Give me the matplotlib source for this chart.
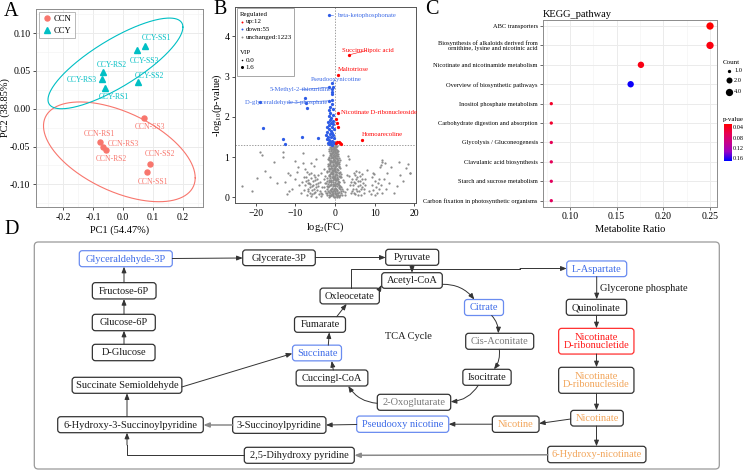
import numpy as np
import matplotlib.pyplot as plt
from matplotlib.patches import FancyBboxPatch, Rectangle
from matplotlib.colors import LinearSegmentedColormap, Normalize
from matplotlib.cm import ScalarMappable

plt.rcParams['font.family'] = ['Liberation Serif', 'DejaVu Serif']
plt.rcParams['mathtext.fontset'] = 'custom'
plt.rcParams['mathtext.rm'] = 'Liberation Serif'
plt.rcParams['mathtext.it'] = 'Liberation Serif:italic'

# ---------------- data ----------------
# A: PCA scores
ccn_names = ['CCN-SS1', 'CCN-SS2', 'CCN-SS3', 'CCN-RS1', 'CCN-RS2', 'CCN-RS3']
ccn_pc1 = [0.080, 0.091, 0.070, -0.077, -0.057, -0.066]
ccn_pc2 = [-0.084, -0.0735, -0.0126, -0.044, -0.054, -0.051]
ccy_names = ['CCY-SS1', 'CCY-SS2', 'CCY-SS3', 'CCY-RS1', 'CCY-RS2', 'CCY-RS3']
ccy_pc1 = [0.073, 0.049, 0.048, -0.059, -0.066, -0.069]
ccy_pc2 = [0.083, 0.035, 0.078, 0.027, 0.049, 0.039]
# label spots (repelled)
ccn_lab_x = [0.101, 0.123, 0.090, -0.077, -0.038, 0.001]
ccn_lab_y = [-0.0966, -0.060, -0.0245, -0.0334, -0.067, -0.047]
ccy_lab_x = [0.112, 0.090, 0.071, -0.032, -0.038, -0.138]
ccy_lab_y = [0.094, 0.043, 0.063, 0.015, 0.058, 0.038]
# confidence ellipses: centre, sd, correlation
ccn_ell = [-0.012, -0.057, 0.253, 0.066, -0.52]
ccy_ell = [-0.025, 0.060, 0.225, 0.060, 0.80]

# B: volcano
up_fc = [3.53, 0.84, 0.67, 6.8, 0.25, 0.58, 0.84, 0.2, 0.5, 0.9, 1.2, 1.5]
up_p = [3.54, 3.04, 2.09, 1.43, 1.95, 1.84, 1.76, 1.35, 1.38, 1.37, 1.34, 1.32]
down_fc = [-1.43, -0.68, -0.58, -1.44, -0.68, -0.76, -7.56, -7.3, -7.13, -1.44,
           -0.68, -0.68, -1.44, -1.26, -18.9, -18.1, -13.0, -12.6, -8.4, -4.2,
           -1.5, -0.9, -1.2, -0.6, -1.8, -1.0, -0.4, -1.4, -2.1, -0.8,
           -1.6, -0.3, -1.1, -1.9, -0.7, -1.3, -2.3, -0.5, -1.7, -1.0,
           -0.3, -2.0, -1.4, -0.8, -1.2, -0.5, -1.8, -0.2, -1.0, -1.5,
           -0.7, -0.4, -1.2, -0.6, -0.7]
down_p = [4.52, 2.85, 2.73, 2.74, 2.63, 2.56, 2.46, 2.34, 2.21, 2.40,
          2.42, 2.31, 2.17, 2.09, 2.38, 1.72, 1.44, 1.32, 1.51, 1.47,
          2.02, 1.98, 1.93, 1.90, 1.88, 1.85, 1.83, 1.80, 1.76, 1.74,
          1.71, 1.69, 1.66, 1.63, 1.61, 1.58, 1.55, 1.54, 1.51, 1.49,
          1.47, 1.45, 1.43, 1.41, 1.38, 1.37, 1.35, 1.34, 1.33, 1.32,
          1.31, 2.05, 2.25, 2.20, 2.70]
# unchanged metabolites: central column
nc_fc = [-0.2, 0.3, -0.8, 0.9, -1.5, 1.4, -2.3, 0.1, -0.5, 0.6, -1.1, 1.8, -2.8, 0.0, -0.3,
         1.1, -1.7, 0.4, -0.9, 2.2, -2.1, 0.2, -0.6, 0.8, -1.3, 1.5, -0.1, -2.5, 0.5, -0.4,
         -1.0, 1.0, -1.9, 0.1, -0.7, 0.7, -1.4, 1.3, -0.2, 0.3, -1.1, -0.5, 0.9, -1.7, 0.0,
         -0.8, 0.5, -1.2, 1.2, -0.3, 0.2, -0.9, -1.5, 0.6, -0.1, -0.6, 0.8, -1.3, 0.1, -0.4,
         -1.0, 0.4, -0.7, -0.2, 0.3, -1.2, -0.5, 0.0,
         0.4, -1.2, 1.2, -0.4, -1.9, 0.7, -0.1, -1.0, 2.0, 0.2, -0.7, 1.4, -1.4, 0.5, -0.2,
         -2.4, 0.9, -1.1, 0.0, -0.5, 1.2, -1.6, 0.3, -0.8, 0.6, -0.3, -1.3, 0.1, 0.9, -0.6,
         -1.5, 0.4, -0.1, -1.0, 0.7, -0.4, 0.1, -1.1, 0.4, -0.8, 0.6, -0.3, -1.4, 0.1, -0.9,
         -0.1, 0.5, -0.7,
         -0.6, 0.8, -1.3, -3.2, 2.6, 0.0, -0.3, 1.0, -1.9, 0.3, -0.9, 0.7, -1.5, -0.1, 0.4,
         -0.6, 1.6, -1.2, 0.0, -0.4, 0.5, -1.0, -0.2, 0.7, -1.3, 0.2, -0.6, -1.7, 0.9, -0.2,
         -0.9, 0.3, -0.5, -1.1, 0.2,
         -1.6, 0.6, -0.9, 1.7, -2.0, 0.2, -0.5, 1.0, -1.4, -2.6, 0.5, -0.2, -1.2, 1.3, -0.8,
         0.9, -1.8, -0.4, 0.1, -1.0, 0.7, -2.2, -0.6, 1.1, -1.3, 0.3, -0.3, -1.9, 0.6, -0.8,
         1.3, -1.5, 0.0, -0.7, 0.9, -1.1, 0.3, -2.0, -0.4, 0.6, -1.6, -0.1, -0.9, 0.5, -1.3,
         0.2, -0.6, 1.0, -1.0, 0.0, -1.6, 0.4, -0.7, 0.7, -1.3, -0.2, -0.8, 0.5, -1.5, -0.1,
         -0.6, 0.3, -1.0, -0.3, 0.0,
         0.0, -0.4, 1.1, -1.1, 2.4, -3.5, 0.6, -0.7, 1.6, -1.7, 0.3, -0.1, -2.1, 1.2, -1.2,
         0.8, -0.5, -1.6, 0.1, 1.9, -0.9, 0.5, -2.7, -0.2, -1.2, 0.9, -0.5, 1.3, -1.4, 0.1,
         -0.8, -0.3, 0.9, -1.8, 0.3, -0.5, -1.2, 0.6, -0.2, -1.4, 0.4, -0.5, -1.1, 0.2, -0.4,
         0.7, -0.9, -0.2, -0.6, 0.1]
nc_p = [0.02, 0.05, 0.08, 0.03, 0.06, 0.10, 0.12, 0.14, 0.17, 0.19, 0.21, 0.22, 0.25, 0.27, 0.30,
        0.31, 0.33, 0.35, 0.38, 0.37, 0.40, 0.42, 0.44, 0.46, 0.48, 0.50, 0.52, 0.53, 0.55, 0.57,
        0.60, 0.61, 0.63, 0.65, 0.67, 0.69, 0.71, 0.72, 0.74, 0.77, 0.79, 0.81, 0.82, 0.84, 0.86,
        0.88, 0.90, 0.92, 0.93, 0.95, 0.97, 0.99, 1.01, 1.02, 1.04, 1.06, 1.08, 1.10, 1.12, 1.14,
        1.16, 1.18, 1.20, 1.22, 1.24, 1.26, 1.27, 1.29,
        0.01, 0.03, 0.07, 0.09, 0.10, 0.12, 0.15, 0.16, 0.15, 0.20, 0.23, 0.26, 0.28, 0.29, 0.34,
        0.35, 0.39, 0.41, 0.45, 0.49, 0.51, 0.55, 0.58, 0.62, 0.64, 0.68, 0.70, 0.73, 0.75, 0.78,
        0.80, 0.83, 0.87, 0.90, 0.94, 0.98, 1.00, 1.03, 1.07, 1.11, 1.15, 1.17, 1.19, 1.21, 1.23,
        1.25, 1.28, 1.28,
        0.04, 0.06, 0.11, 0.08, 0.13, 0.10, 0.20, 0.24, 0.27, 0.32, 0.31, 0.40, 0.43, 0.47, 0.50,
        0.54, 0.58, 0.59, 0.62, 0.66, 0.70, 0.73, 0.80, 0.85, 0.86, 0.89, 0.93, 0.96, 0.99, 1.02,
        1.06, 1.10, 1.13, 1.20, 1.27,
        0.02, 0.04, 0.05, 0.06, 0.07, 0.09, 0.11, 0.13, 0.14, 0.16, 0.17, 0.18, 0.19, 0.20, 0.22,
        0.25, 0.26, 0.28, 0.30, 0.32, 0.34, 0.36, 0.37, 0.39, 0.41, 0.43, 0.45, 0.47, 0.48, 0.50,
        0.53, 0.54, 0.56, 0.58, 0.60, 0.62, 0.63, 0.66, 0.68, 0.71, 0.73, 0.76, 0.78, 0.80, 0.83,
        0.85, 0.87, 0.89, 0.91, 0.94, 0.97, 0.96, 1.00, 1.03, 1.05, 1.08, 1.10, 1.13, 1.15, 1.17,
        1.19, 1.21, 1.24, 1.26, 1.10,
        0.00, 0.06, 0.02, 0.07, 0.05, 0.04, 0.10, 0.13, 0.16, 0.17, 0.22, 0.24, 0.22, 0.28, 0.30,
        0.33, 0.34, 0.38, 0.38, 0.42, 0.44, 0.46, 0.46, 0.50, 0.52, 0.54, 0.60, 0.64, 0.66, 0.68,
        0.72, 0.71, 0.78, 0.77, 0.81, 0.84, 0.87, 0.88, 0.91, 0.94, 0.99, 1.01, 1.08, 1.05, 1.12,
        1.16, 1.18, 1.20, 1.25, 1.16]
# unchanged metabolites: scattered away from zero
nc_far_fc = [-18.9, -18.5, -17.6, -15.5, -13.2, -13.0, -11.8, -11.3, -12.6, -16.4, -19.7, -23.5,
             -8.0, -8.0, -7.5, -9.5, -10.2, -10.8, -9.0, -11.5, -12.2,
             -7.2, -6.8, -6.5, -6.1, -5.9, -5.5, -5.2, -4.9, -4.6, -4.3, -6.9, -6.3, -5.7, -5.0,
             -4.1, -7.6, -6.6, -5.4, -4.5, -3.8, -3.5, -3.9, -7.9, -8.5, -6.0, -4.7,
             -6.0, -5.3, -4.8, -3.0, -2.7,
             -7.0, -6.7, -6.4, -6.2, -5.8, -5.6, -5.3, -5.1, -4.8, -4.4, -6.8, -7.3, -6.0, -5.0,
             -4.2, -7.0, -7.8, -8.2, -3.3, -3.6,
             3.35, 3.6, 11.8, 11.8, 16.0, 18.0, 18.9, 13.0, 9.8, 18.5, 19.0, 16.4, 11.6, 11.3,
             11.1, 9.5, 8.0, 6.3,
             4.3, 4.6, 4.9, 5.2, 5.5, 5.8, 6.1, 6.4, 6.7, 7.0, 7.3, 5.0, 5.7, 6.6, 4.4, 7.6, 4.7,
             5.4, 6.9, 3.8, 3.5,
             4.5, 4.8, 5.1, 5.3, 5.6, 5.9, 6.2, 6.5, 6.8, 7.2, 7.5, 5.0, 6.0, 4.1, 3.9,
             9.2, 9.6, 10.0, 10.3, 10.6, 10.9, 11.2, 11.5, 11.9, 9.0, 10.1, 12.3, 12.8, 9.4, 8.6,
             13.5, 14.8, 15.6, 2.8, 3.0, 2.9,
             -21.0, -14.5, -10.0, -9.3, 14.0, 17.2, 12.5]
nc_far_p = [1.13, 1.05, 0.65, 0.89, 1.13, 1.01, 0.60, 0.55, 0.39, 0.51, 0.47, 0.27,
            1.10, 0.85, 0.70, 0.62, 0.45, 0.20, 0.30, 0.15, 0.08,
            0.50, 0.42, 0.35, 0.48, 0.28, 0.40, 0.22, 0.33, 0.18, 0.27, 0.20, 0.12, 0.08, 0.13,
            0.09, 0.30, 0.58, 0.55, 0.45, 0.38, 0.60, 0.15, 0.18, 0.10, 0.03, 0.02,
            0.85, 0.78, 0.95, 1.05, 0.70,
            0.05, 0.15, 0.25, 0.33, 0.18, 0.30, 0.10, 0.42, 0.25, 0.35, 0.35, 0.40, 0.60, 0.50,
            0.55, 0.62, 0.50, 0.38, 0.25, 0.10,
            1.03, 0.95, 0.93, 0.88, 0.87, 0.72, 0.60, 0.60, 0.57, 0.83, 0.60, 0.55, 0.80, 0.75,
            0.45, 0.60, 0.68, 0.53,
            0.45, 0.30, 0.38, 0.20, 0.50, 0.28, 0.15, 0.40, 0.25, 0.35, 0.12, 0.08, 0.05, 0.07, 0.15,
            0.45, 0.60, 0.65, 0.58, 0.30, 0.52,
            0.22, 0.12, 0.35, 0.45, 0.15, 0.40, 0.30, 0.20, 0.45, 0.22, 0.30, 0.55, 0.62, 0.38, 0.12,
            0.30, 0.18, 0.40, 0.25, 0.12, 0.35, 0.20, 0.30, 0.10, 0.08, 0.05, 0.45, 0.22, 0.50, 0.15,
            0.35, 0.12, 0.28, 0.80, 0.20, 0.55,
            0.15, 0.35, 0.90, 0.75, 0.75, 0.40, 0.85]
# labelled metabolites: name, point, text position, colour key
vol_labels = ['beta-ketophosphonate', 'Succinyllipoic acid', 'Maltotriose', 'Pseudooxynicotine',
              '5-Methyl-2-thiouridine', 'D-glyceraldehyde 3-phosphate',
              'Nicotinate D-ribonucleoside', 'Homoarecoline']
vol_lab_pt_x = [-1.43, 3.53, 0.84, -0.68, -1.44, -1.44, 0.67, 6.8]
vol_lab_pt_y = [4.52, 3.54, 3.04, 2.85, 2.74, 2.40, 2.09, 1.43]
vol_lab_tx = [8.1, 8.3, 4.6, 0.25, -8.8, -12.3, 11.1, 11.9]
vol_lab_ty = [4.53, 3.66, 3.18, 2.94, 2.67, 2.35, 2.10, 1.57]
vol_lab_up = [False, True, True, False, False, False, True, True]

# C: KEGG enrichment
kegg_terms = ['ABC transporters',
              'Biosynthesis of alkaloids derived from\nornithine, lysine and nicotinic acid',
              'Nicotinate and nicotinamide metabolism',
              'Overview of biosynthetic pathways',
              'Inositol phosphate metabolism',
              'Carbohydrate digestion and absorption',
              'Glycolysis / Gluconeogenesis',
              'Clavulanic acid biosynthesis',
              'Starch and sucrose metabolism',
              'Carbon fixation in photosynthetic organisms']
kegg_ratio = [0.25, 0.25, 0.176, 0.165, 0.08, 0.08, 0.08, 0.08, 0.08, 0.08]
kegg_count = [4, 4, 3, 3, 1, 1, 1, 1, 1, 1]
kegg_pval = [0.028, 0.034, 0.036, 0.166, 0.045, 0.047, 0.066, 0.068, 0.070, 0.070]
count_breaks = [1.0, 2.0, 4.0]
pval_breaks = [0.04, 0.08, 0.12, 0.16]

# D: pathway nodes  name: (cx, cy, w, h, style)
nodes = {
    'Glyceraldehyde-3P': (125.8, 258.7, 93, 16, 'blue'),
    'Glycerate-3P': (279, 257.8, 72.6, 15.7, 'plain'),
    'Pyruvate': (412.2, 257.3, 53, 16, 'plain'),
    'Acetyl-CoA': (412, 280.5, 60.6, 15.6, 'plain'),
    'Oxleocetate': (349.7, 296, 59.3, 15.8, 'plain'),
    'Fumarate': (320, 324.5, 51, 15.6, 'plain'),
    'Succinate': (317, 353, 49, 15.7, 'blue'),
    'Cuccingl-CoA': (332, 378, 71.7, 16, 'plain'),
    'Citrate': (484, 307.5, 39, 16, 'blue'),
    'Cis-Aconitate': (499.7, 341.3, 68, 16, 'gray'),
    'Isocitrate': (487, 377.3, 48.3, 16, 'plain'),
    '2-Oxoglutarate': (414, 402.3, 73.4, 16, 'gray'),
    'L-Aspartate': (596.7, 268.8, 60, 15.7, 'blue'),
    'Quinolinate': (596.5, 307.3, 60.4, 16, 'plain'),
    'Nicotinate\nD-ribonucletide': (596.3, 341.2, 75.3, 25.7, 'red'),
    'Nicotinate\nD-ribonucleside': (596.3, 380.3, 75.3, 26, 'orange'),
    'Nicotinate': (597, 418.2, 52.6, 15.7, 'orange'),
    'Nicotine': (515.7, 424.2, 46.7, 16.3, 'orange'),
    'Pseudooxy nicotine': (402.7, 424.2, 92, 16.3, 'blue'),
    '3-Succinoylpyridine': (279.3, 425, 93.3, 16.7, 'plain'),
    '6-Hydroxy-3-Succinoylpyridine': (130.5, 424.7, 145.6, 16, 'plain'),
    'Succinate Semioldehyde': (127, 385.3, 109.7, 16, 'plain'),
    'D-Glucose': (123.7, 352.5, 62.7, 16.4, 'plain'),
    'Glucose-6P': (123.8, 322.5, 63, 16.4, 'plain'),
    'Fructose-6P': (124.2, 290.8, 63.7, 16.3, 'plain'),
    '2,5-Dihydroxy pyridine': (299.3, 455.3, 110, 16, 'plain'),
    '6-Hydroxy-nicotinate': (596.8, 454.5, 98.3, 16.4, 'orange'),
}

W, H = 745, 470
fig = plt.figure(figsize=(W / 100, H / 100), dpi=100)


def px_axes(l, t, r, b, **kw):
    return fig.add_axes([l / W, 1 - b / H, (r - l) / W, (b - t) / H], **kw)


ccn_col = '#F8766D'
ccy_col = '#00BFC4'
grid_col = '#EBEBEB'
frame_col = '#8C8C8C'

# ---------------- A ----------------
ax = px_axes(36, 9, 203, 207)
ax.set_xlim(-0.29, 0.267)
ax.set_ylim(-0.130, 0.132)
ax.set_xticks([-0.2, -0.1, 0.0, 0.1, 0.2])
ax.set_xticklabels(['-0.2', '-0.1', '0.0', '0.1', '0.2'])
ax.set_yticks([-0.10, -0.05, 0.0, 0.05, 0.10])
ax.set_yticklabels(['-0.10', '-0.05', '0.00', '0.05', '0.10'])
ax.set_xticks([-0.25, -0.15, -0.05, 0.05, 0.15, 0.25], minor=True)
ax.set_yticks([-0.125, -0.075, -0.025, 0.025, 0.075, 0.125], minor=True)
ax.grid(which='major', color=grid_col, lw=0.7)
ax.grid(which='minor', color='#F4F4F4', lw=0.5)
ax.set_axisbelow(True)
ax.tick_params(which='major', length=2.5, width=0.6, labelsize=7, pad=1.5, color='#333333')
ax.tick_params(which='minor', length=0)
for s in ax.spines.values():
    s.set_color(frame_col)
    s.set_linewidth(0.7)

t = np.linspace(0, 2 * np.pi, 300)
for e, col in ((ccn_ell, ccn_col), (ccy_ell, ccy_col)):
    cx, cy, sx, sy, r = e
    ax.plot(cx + sx * np.cos(t), cy + sy * (r * np.cos(t) + np.sqrt(1 - r * r) * np.sin(t)),
            color=col, lw=0.8)
ax.plot(ccn_pc1, ccn_pc2, 'o', color=ccn_col, ms=3.6, ls='none', label='CCN')
ax.plot(ccy_pc1, ccy_pc2, '^', color=ccy_col, ms=3.8, ls='none', label='CCY')
for n, x, y in zip(ccn_names, ccn_lab_x, ccn_lab_y):
    ax.text(x, y, n, color=ccn_col, fontsize=5.5, ha='center', va='center')
for n, x, y in zip(ccy_names, ccy_lab_x, ccy_lab_y):
    ax.text(x, y, n, color=ccy_col, fontsize=5.5, ha='center', va='center')
leg = ax.legend(loc='upper left', fontsize=6.2, frameon=True, fancybox=False,
                borderpad=0.4, handletextpad=0.3, handlelength=1.0, labelspacing=0.4,
                borderaxespad=0.35, edgecolor='#999999')
leg.get_frame().set_linewidth(0.6)
ax.set_xlabel('PC1 (54.47%)', fontsize=7.5, labelpad=3)
ax.set_ylabel('PC2 (38.85%)', fontsize=7.5)
ax.yaxis.set_label_coords(-0.155, 0.5)

# ---------------- B ----------------
bx = px_axes(235, 7, 416, 203)
bx.set_xlim(-25.2, 20.4)
bx.set_ylim(-0.14, 4.73)
bx.scatter(nc_fc + nc_far_fc, nc_p + nc_far_p, s=2.6, color='#8C8C8C', lw=0, zorder=2)
bx.scatter(down_fc, down_p, s=5.5, color='#2E5CE6', lw=0, zorder=3)
bx.scatter(up_fc, up_p, s=5.5, color='#FF0000', lw=0, zorder=3)
bx.axhline(1.301, color='#777777', ls=(0, (2, 2)), lw=0.5, zorder=1)
bx.axvline(0, color='#777777', ls=(0, (2, 2)), lw=0.5, zorder=1)
for n, px_, py_, tx, ty, up in zip(vol_labels, vol_lab_pt_x, vol_lab_pt_y,
                                   vol_lab_tx, vol_lab_ty, vol_lab_up):
    col = '#FF0000' if up else '#3C6AE6'
    bx.annotate(n, xy=(px_, py_), xytext=(tx, ty), fontsize=4.8, color=col,
                ha='center', va='center',
                arrowprops=dict(arrowstyle='-', color=col, lw=0.4, shrinkA=1, shrinkB=1))
bx.set_xticks([-20, -10, 0, 10, 20])
bx.set_yticks([0, 1, 2, 3, 4])
bx.tick_params(length=2.5, width=0.6, labelsize=7, pad=1.5, color='#333333')
for s in bx.spines.values():
    s.set_color('#555555')
    s.set_linewidth(0.7)
bx.set_xlabel('log$_2$(FC)', fontsize=7.5, labelpad=2)
bx.set_ylabel('-log$_{10}$(p-value)', fontsize=7.5)
bx.yaxis.set_label_coords(-0.062, 0.5)

# ---------------- C ----------------
cmap = LinearSegmentedColormap.from_list('rb', ['#FF0000', '#E80050', '#C90088', '#9A00C3', '#0000FF'])
norm = Normalize(vmin=0.027, vmax=0.169)
size_px = {1: 3.3, 2: 6.0, 3: 6.4, 4: 7.3}

cx_ = px_axes(542.7, 20, 717.3, 206.7)
rows = np.arange(1, len(kegg_terms) + 1)
cx_.scatter(kegg_ratio, rows, s=[(size_px[c] / 1.389) ** 2 for c in kegg_count],
            c=kegg_pval, cmap=cmap, norm=norm, lw=0, zorder=3)
cx_.set_xlim(0.0708, 0.2578)
cx_.set_ylim(len(kegg_terms) + 0.31, 0.69)
cx_.set_yticks(rows)
cx_.set_yticklabels(kegg_terms, fontsize=4.55, multialignment='right', linespacing=0.95)
cx_.set_xticks([0.10, 0.15, 0.20, 0.25])
cx_.set_xticklabels(['0.10', '0.15', '0.20', '0.25'], fontsize=7)
cx_.set_xticks([0.075, 0.125, 0.175, 0.225], minor=True)
cx_.grid(which='major', color=grid_col, lw=0.7)
cx_.grid(which='minor', axis='x', color='#F4F4F4', lw=0.5)
cx_.set_axisbelow(True)
cx_.tick_params(which='major', length=2, width=0.5, pad=1.5, color='#333333')
cx_.tick_params(which='minor', length=0)
for s in cx_.spines.values():
    s.set_color(frame_col)
    s.set_linewidth(0.7)
cx_.set_xlabel('Metabolite Ratio', fontsize=7.5, labelpad=3)
cx_.set_title('KEGG_pathway', fontsize=7.5, loc='left', pad=2)

cb_ax = px_axes(724.3, 124, 731.7, 160.7)
cb = fig.colorbar(ScalarMappable(norm=norm, cmap=cmap), cax=cb_ax, ticks=pval_breaks)
cb.outline.set_visible(False)
cb_ax.invert_yaxis()
cb_ax.tick_params(length=0, labelsize=4.5, pad=1)
cb_ax.set_yticklabels(['%.2f' % v for v in pval_breaks])

# ---------------- overlay (legends, labels, pathway) ----------------
ov = fig.add_axes([0, 0, 1, 1], zorder=10)
ov.set_xlim(0, W)
ov.set_ylim(H, 0)
ov.axis('off')
ov.patch.set_alpha(0)

for lab, x, y in (('A', 11.5, 11.5), ('B', 220, 9), ('C', 431.5, 9), ('D', 11.5, 230)):
    ov.text(x, y, lab, fontsize=14.5, ha='center', va='center')

# volcano legend box
ov.add_patch(Rectangle((236.7, 8.3), 57.3, 67.4, fc='white', ec='#999999', lw=0.6))
ov.text(240, 14.3, 'Regulated', fontsize=5, va='center')
for y, col, txt in ((21.5, '#FF0000', 'up:12'), (29.3, '#2E5CE6', 'down:55'),
                    (37.3, '#8C8C8C', 'unchanged:1223')):
    ov.plot(242.3, y, 'o', ms=1.4, color=col, mew=0)
    ov.text(245.5, y, txt, fontsize=5, va='center')
ov.text(240, 52.7, 'VIP', fontsize=5, va='center')
ov.plot(242.3, 60, 'o', ms=1.1, color='black', mew=0)
ov.text(245.5, 60, '0.0', fontsize=5, va='center')
ov.plot(242.3, 67.3, 'o', ms=2.2, color='black', mew=0)
ov.text(245.5, 67.3, '1.6', fontsize=5, va='center')

# KEGG count legend
ov.text(722.7, 62.3, 'Count', fontsize=5, va='center')
for y, c in zip((70.7, 80.3, 91.7), count_breaks):
    ov.plot(729.3, y, 'o', ms=size_px[int(c)] / 1.389, color='black', mew=0)
    ov.text(734, y, '%.1f' % c, fontsize=4.6, va='center')
ov.text(722.7, 119, 'p-value', fontsize=5, va='center')

# pathway frame
ov.add_patch(FancyBboxPatch((34.3, 242), 685, 227, boxstyle='round,pad=0,rounding_size=4',
                            fc='none', ec='#9A9A9A', lw=0.9))

styles = {'plain': ('#1A1A1A', '#333333'), 'blue': ('#3D6BE8', '#6A8CF0'),
          'gray': ('#7A7A7A', '#333333'), 'red': ('#FF1A1A', '#FF3030'),
          'orange': ('#F2A55A', '#333333')}
for name, (x, y, w, h, st) in nodes.items():
    tc, ec = styles[st]
    ov.add_patch(FancyBboxPatch((x - w / 2, y - h / 2), w, h,
                                boxstyle='round,pad=0,rounding_size=3',
                                fc='white', ec=ec, lw=0.9))
    ov.text(x, y + 0.3, name, fontsize=7.5, color=tc, ha='center', va='center', linespacing=0.95)

ov.text(408.3, 336.7, 'TCA Cycle', fontsize=7.5, ha='center', va='center', color='#1A1A1A')
ov.text(600, 288.3, 'Glycerone phosphate', fontsize=7.5, ha='left', va='center', color='#1A1A1A')


def arrow(p0, p1, rad=0.0, col='#333333', lw=0.7):
    ov.annotate('', xy=p1, xytext=p0,
                arrowprops=dict(arrowstyle='-|>,head_length=0.35,head_width=0.14', color=col,
                                lw=lw, shrinkA=0, shrinkB=0,
                                connectionstyle='arc3,rad=%s' % rad))


arrow((124, 344.3), (124, 330.7))
arrow((124, 314.3), (124, 299))
arrow((124, 282.7), (124, 266.7))
arrow((172.3, 258.5), (242.7, 258))
arrow((315.3, 257.5), (385.7, 257.5))
arrow((412, 265.3), (412, 272.7))
arrow((442.3, 284.3), (474.3, 299.5), rad=-0.25)
arrow((491.7, 315.5), (498.3, 333.3), rad=-0.2)
arrow((499.3, 349.3), (494, 369.3), rad=-0.2)
arrow((478.3, 385.3), (450.7, 401.7), rad=-0.25)
arrow((377.3, 403.3), (348.3, 386), rad=-0.25)
arrow((333.3, 370), (331.7, 361))
arrow((328.3, 345.2), (329.3, 332.3))
arrow((336.7, 316.7), (346.7, 303.9))
arrow((379.3, 289.5), (381.7, 285))
ov.plot([350.7, 350.7, 520], [288, 268.5, 268.5], color='#333333', lw=0.7)
arrow((520, 268.5), (566.7, 268.5))
arrow((596.7, 276.7), (596.7, 299.3))
arrow((596.5, 315.3), (596.5, 328.3))
arrow((596.5, 354), (596.5, 367.3))
arrow((596.5, 393.3), (596.5, 410.3))
arrow((570.7, 419), (539, 423.5))
arrow((492.3, 424.2), (448.7, 424.2))
arrow((356.7, 424.5), (326, 425))
arrow((232.7, 425), (203.3, 425), col='#8A8A8A', lw=1.1)
arrow((127, 416.7), (127, 393.3))
arrow((181.7, 387), (292.3, 353.5))
arrow((596.5, 426), (596.5, 446.3))
arrow((547.7, 454.8), (354.3, 455.3), col='#8A8A8A', lw=1.1)
ov.plot([244.3, 127, 127], [455.3, 455.3, 445], color='#333333', lw=0.7)
arrow((127, 445), (127, 432.7))

fig.savefig('out.png', dpi=100)
